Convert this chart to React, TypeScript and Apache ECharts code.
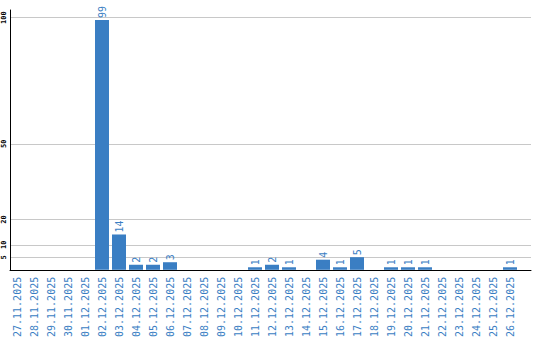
import React, { useEffect, useRef } from "react";
import * as echarts from "echarts";

const dates = [
  "27.11.2025", "28.11.2025", "29.11.2025", "30.11.2025", "01.12.2025",
  "02.12.2025", "03.12.2025", "04.12.2025", "05.12.2025", "06.12.2025",
  "07.12.2025", "08.12.2025", "09.12.2025", "10.12.2025", "11.12.2025",
  "12.12.2025", "13.12.2025", "14.12.2025", "15.12.2025", "16.12.2025",
  "17.12.2025", "18.12.2025", "19.12.2025", "20.12.2025", "21.12.2025",
  "22.12.2025", "23.12.2025", "24.12.2025", "25.12.2025", "26.12.2025",
];
const counts = [
  0, 0, 0, 0, 0,
  99, 14, 2, 2, 3,
  0, 0, 0, 0, 1,
  2, 1, 0, 4, 1,
  5, 0, 1, 1, 1,
  0, 0, 0, 0, 1,
];
const yTicks = [5, 10, 20, 50, 100];
const yMax = 103;

const BLUE = "#3a7ec3";
const MONO = "'DejaVu Sans Mono', monospace";

export default function App() {
  const ref = useRef<HTMLDivElement>(null);
  useEffect(() => {
    if (!ref.current) return;
    const chart = echarts.init(ref.current, null, { renderer: "svg" });
    chart.setOption({
      animation: false,
      backgroundColor: "#ffffff",
      grid: [
        { left: 10, top: 10, width: 521, height: 260, containLabel: false },
        { left: 8.5, top: 10, width: 510, height: 260, containLabel: false },
      ],
      xAxis: [
        {
          gridIndex: 0,
          type: "value",
          min: 0,
          max: 1,
          axisLine: { show: true, lineStyle: { color: "#000", width: 1 } },
          axisTick: { show: false },
          axisLabel: { show: false },
          splitLine: { show: false },
        },
        {
          gridIndex: 1,
          type: "category",
          data: dates,
          axisLine: { show: false },
          axisTick: { show: false },
          splitLine: { show: false },
          axisLabel: {
            interval: 0,
            rotate: 90,
            margin: 7,
            color: BLUE,
            fontFamily: MONO,
            fontSize: 10,
          },
        },
      ],
      yAxis: [
        {
          gridIndex: 0,
          type: "value",
          min: 0,
          max: yMax,
          axisLine: { show: true, lineStyle: { color: "#000", width: 1 } },
          axisTick: { show: false, customValues: yTicks },
          axisLabel: {
            customValues: yTicks,
            rotate: 90,
            margin: 3,
            color: "#000",
            fontFamily: MONO,
            fontSize: 7,
            fontWeight: "bold",
          },
          splitLine: { show: true, lineStyle: { color: "#c8c8c8", width: 1 } },
        },
        {
          gridIndex: 1,
          type: "value",
          min: 0,
          max: yMax,
          show: false,
          splitLine: { show: false },
        },
      ],
      series: [
        {
          type: "bar",
          xAxisIndex: 1,
          yAxisIndex: 1,
          data: counts,
          barWidth: 14,
          itemStyle: { color: BLUE },
          label: {
            show: true,
            position: "top",
            rotate: 90,
            align: "left",
            verticalAlign: "middle",
            distance: 2,
            color: BLUE,
            fontFamily: MONO,
            fontSize: 10,
            formatter: (p: any) => (p.value ? String(p.value) : ""),
          },
        },
      ],
    });
    return () => chart.dispose();
  }, []);
  return (
    <div
      ref={ref}
      style={{ position: "fixed", left: 0, top: 0, width: 540, height: 340 }}
    />
  );
}
